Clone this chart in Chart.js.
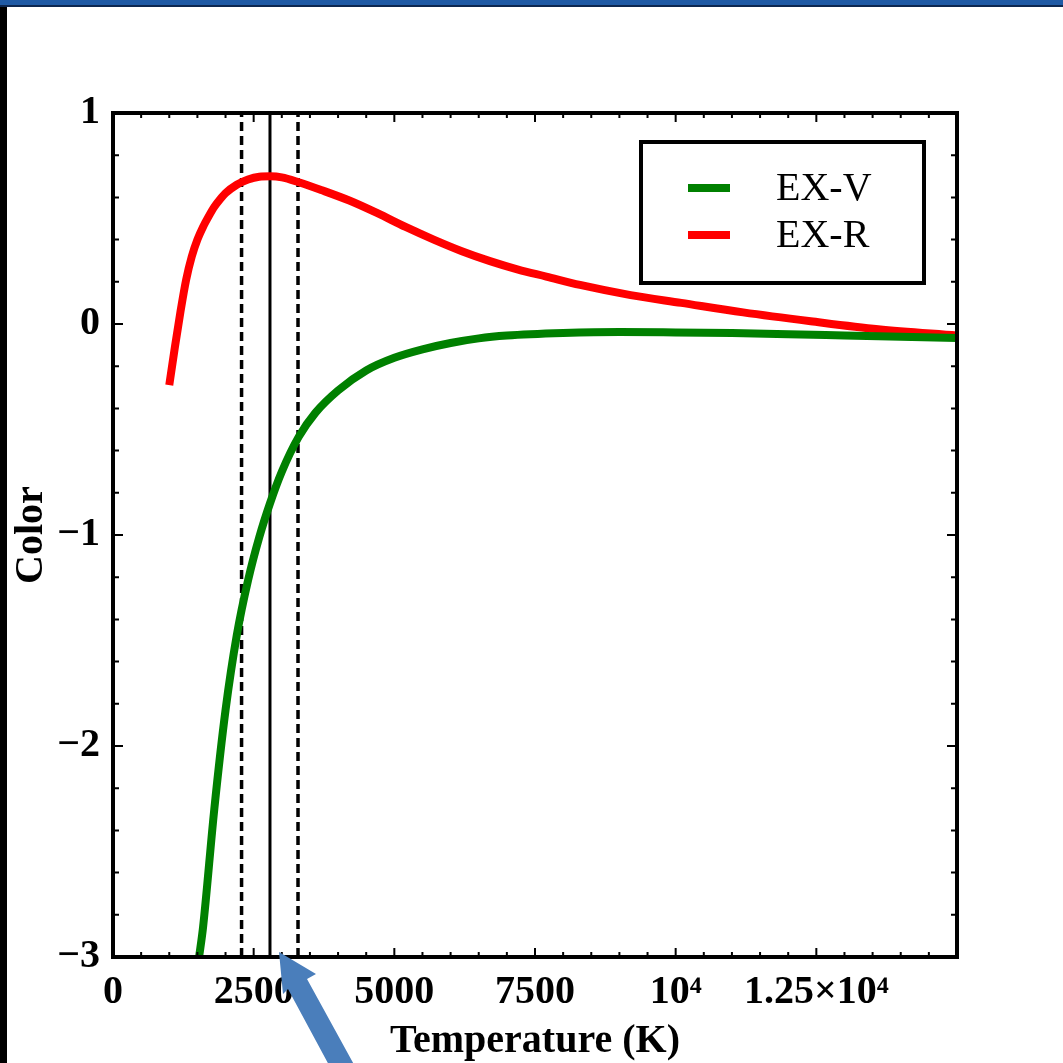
<!DOCTYPE html>
<html>
<head>
<meta charset="utf-8">
<script src="https://cdn.jsdelivr.net/npm/chart.js@4.4.1/dist/chart.umd.min.js"></script>
<style>
  html, body { margin: 0; padding: 0; background: #fff; }
  #wrap { width: 1063px; height: 1063px; }
</style>
</head>
<body>
<div id="wrap"><canvas id="colorChart" width="1063" height="1063"></canvas></div>
<script>
// EX-R colour vs temperature
const redTemp = [1000, 1100, 1200, 1300, 1400, 1500, 1600, 1700, 1800, 1900, 2000, 2200, 2400, 2600, 2800, 3000, 3300, 3700, 4200, 4700, 5200, 5700, 6200, 6700, 7200, 7700, 8300, 9200, 10100, 11200, 12400, 13600, 15000];
const redColor = [-0.29, -0.11, 0.06, 0.21, 0.32, 0.40, 0.46, 0.51, 0.555, 0.59, 0.62, 0.66, 0.685, 0.698, 0.70, 0.695, 0.672, 0.635, 0.585, 0.525, 0.46, 0.40, 0.345, 0.298, 0.258, 0.225, 0.185, 0.137, 0.10, 0.055, 0.013, -0.025, -0.055];
// EX-V colour vs temperature
const greenTemp = [1530, 1600, 1800, 2000, 2200, 2400, 2600, 2790, 3000, 3300, 3600, 4000, 4500, 5000, 5500, 6000, 6500, 7000, 8000, 9000, 10000, 11000, 12000, 13000, 14000, 15000];
const greenColor = [-3.0, -2.86, -2.30, -1.83, -1.475, -1.215, -1.01, -0.85, -0.70, -0.535, -0.42, -0.315, -0.22, -0.16, -0.12, -0.09, -0.068, -0.055, -0.043, -0.038, -0.04, -0.043, -0.048, -0.054, -0.06, -0.066];
// vertical marker lines (best value and its range)
const markerTemp = [2285, 2790, 3288];
const markerDash = [[9, 5], [], [9, 5]];
const markerWidth = [3.5, 3, 3.5];
const xTickLabels = { 0: '0', 2500: '2500', 5000: '5000', 7500: '7500', 10000: '10\u2074', 12500: '1.25\u00d710\u2074', 15000: '' };
const yRange = [-3, 1];

const serif = "'Liberation Serif', 'Times New Roman', serif";

const toPoints = (xs, ys) => xs.map((x, i) => ({ x: x, y: ys[i] }));

const markerSets = markerTemp.map((t, i) => ({
    label: 'marker' + i,
    data: [{ x: t, y: yRange[0] }, { x: t, y: yRange[1] }],
    borderColor: '#000',
    borderWidth: markerWidth[i],
    borderDash: markerDash[i],
    pointRadius: 0,
    showLine: true,
    inLegend: false,
}));

// frame with inward ticks, legend box, slide decorations
const decorPlugin = {
    id: 'decor',
    beforeDraw(chart) {
        const c = chart.ctx;
        c.save();
        c.fillStyle = '#000';
        c.fillRect(0, 0, 7, chart.height);
        c.fillStyle = '#1f5aa5';
        c.fillRect(0, 0, chart.width, 6);
        c.fillStyle = '#0d2750';
        c.fillRect(0, 5, chart.width, 2);
        c.restore();
    },
    afterDatasetsDraw(chart) {
        const c = chart.ctx;
        const a = chart.chartArea;
        const xs = chart.scales.x, ys = chart.scales.y;
        c.save();
        c.strokeStyle = '#000';
        c.lineWidth = 2;
        c.beginPath();
        for (let v = 0; v <= 15000; v += 500) {
            const px = xs.getPixelForValue(v);
            const len = v % 2500 === 0 ? 9 : 5;
            c.moveTo(px, a.bottom); c.lineTo(px, a.bottom - len);
            c.moveTo(px, a.top); c.lineTo(px, a.top + len);
        }
        for (let k = 0; k <= 20; k++) {
            const v = -3 + k * 0.2;
            const py = ys.getPixelForValue(v);
            const len = k % 5 === 0 ? 10 : 6;
            c.moveTo(a.left, py); c.lineTo(a.left + len, py);
            c.moveTo(a.right, py); c.lineTo(a.right - len, py);
        }
        c.stroke();
        c.lineWidth = 4;
        c.strokeRect(a.left, a.top, a.right - a.left, a.bottom - a.top);

        // legend
        const bx = a.left + 528, by = a.top + 29, bw = 283, bh = 141;
        c.fillStyle = '#fff';
        c.fillRect(bx, by, bw, bh);
        c.lineWidth = 4;
        c.strokeRect(bx, by, bw, bh);
        const items = chart.data.datasets.filter(d => d.inLegend !== false);
        c.font = '40px ' + serif;
        c.textBaseline = 'middle';
        c.textAlign = 'left';
        items.forEach((d, i) => {
            const ly = by + 46 + i * 47;
            c.strokeStyle = d.borderColor;
            c.lineWidth = 8;
            c.beginPath();
            c.moveTo(bx + 47, ly); c.lineTo(bx + 89, ly);
            c.stroke();
            c.fillStyle = '#000';
            c.fillText(d.label, bx + 135, ly + 1);
        });
        c.restore();
    },
    afterDraw(chart) {
        // blue pointer arrow
        const c = chart.ctx;
        c.save();
        c.fillStyle = '#4a7ebb';
        c.beginPath();
        c.moveTo(279, 952);
        c.lineTo(316, 974);
        c.lineTo(307, 979);
        c.lineTo(357, 1070);
        c.lineTo(337, 1080);
        c.lineTo(288, 989);
        c.lineTo(283, 994);
        c.closePath();
        c.fill();
        c.restore();
    }
};

new Chart(document.getElementById('colorChart').getContext('2d'), {
    type: 'scatter',
    data: {
        datasets: [
            {
                label: 'EX-V',
                data: toPoints(greenTemp, greenColor),
                borderColor: '#008000',
                backgroundColor: '#008000',
                borderWidth: 8,
                pointRadius: 0,
                showLine: true,
                cubicInterpolationMode: 'monotone',
            },
            {
                label: 'EX-R',
                data: toPoints(redTemp, redColor),
                borderColor: '#ff0000',
                backgroundColor: '#ff0000',
                borderWidth: 8,
                pointRadius: 0,
                showLine: true,
                cubicInterpolationMode: 'monotone',
            },
            ...markerSets
        ]
    },
    options: {
        responsive: false,
        devicePixelRatio: 1,
        animation: false,
        layout: { padding: { top: 113, right: 106, left: 0, bottom: 0 } },
        plugins: {
            legend: { display: false },
            tooltip: { enabled: false }
        },
        scales: {
            x: {
                type: 'linear',
                min: 0,
                max: 15000,
                grid: { display: false, drawTicks: false },
                border: { display: false },
                ticks: {
                    stepSize: 2500,
                    autoSkip: false,
                    maxRotation: 0,
                    minRotation: 0,
                    padding: 12,
                    color: '#000',
                    font: { family: serif, size: 40, weight: 'bold' },
                    callback: (v) => xTickLabels[v] !== undefined ? xTickLabels[v] : ''
                },
                title: {
                    display: true,
                    text: 'Temperature (K)',
                    color: '#000',
                    padding: { top: 0, bottom: 1 },
                    font: { family: serif, size: 40, weight: 'bold', lineHeight: 1 }
                },
                afterFit: (s) => { s.height = 106; }
            },
            y: {
                min: yRange[0],
                max: yRange[1],
                grid: { display: false, drawTicks: false },
                border: { display: false },
                ticks: {
                    stepSize: 1,
                    padding: 13,
                    color: '#000',
                    font: { family: serif, size: 40, weight: 'bold' },
                    callback: (v) => String(v).replace('-', '\u2212')
                },
                title: {
                    display: true,
                    text: 'Color',
                    color: '#000',
                    padding: { top: 12, bottom: 0 },
                    font: { family: serif, size: 40, weight: 'bold', lineHeight: 1 }
                },
                afterFit: (s) => { s.width = 113; }
            }
        }
    },
    plugins: [decorPlugin]
});
</script>
</body>
</html>
